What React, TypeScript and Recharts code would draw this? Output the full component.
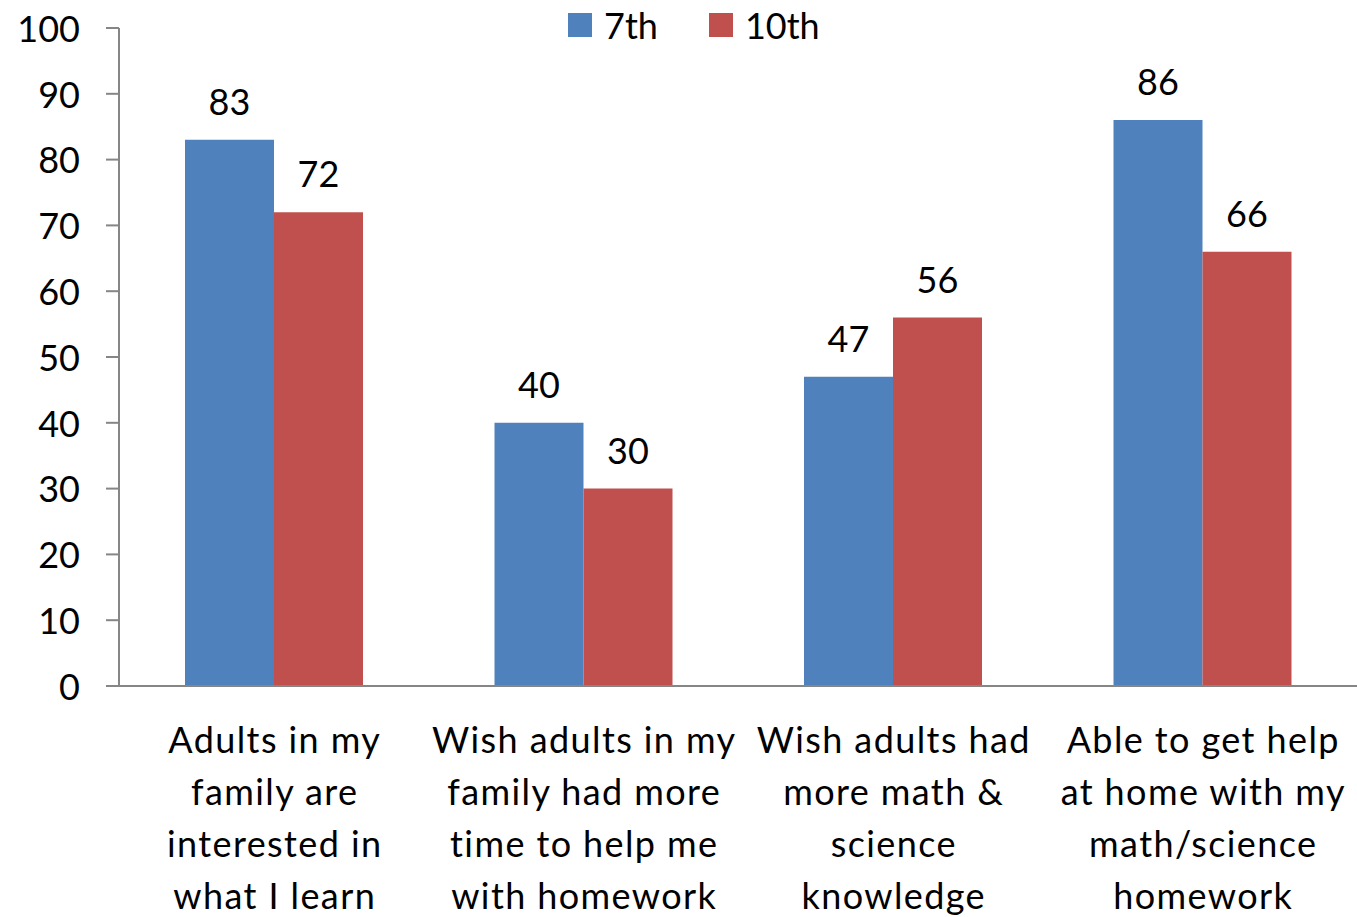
import React from "react";
import { BarChart, Bar, XAxis, YAxis, LabelList } from "recharts";

const categories = [
  ["Adults in my", "family are", "interested in", "what I learn"],
  ["Wish adults in my", "family had more", "time to help me", "with homework"],
  ["Wish adults had", "more math &", "science", "knowledge"],
  ["Able to get help", "at home with my", "math/science", "homework"],
];
const seventh = [83, 40, 47, 86];
const tenth = [72, 30, 56, 66];
const yTicks = [0, 10, 20, 30, 40, 50, 60, 70, 80, 90, 100];

const data = categories.map((lines, i) => ({
  name: lines.join("\n"),
  seventh: seventh[i],
  tenth: tenth[i],
}));

const FONT = "Lato, 'Open Sans', sans-serif";
const BLUE = "#4F81BD";
const RED = "#C0504D";
const AXIS = "#868686";

function CategoryTick(props: any) {
  const { x, y, payload } = props;
  const lines = String(payload.value).split("\n");
  return (
    <text x={x + 1} y={y} textAnchor="middle" fontFamily={FONT} fontSize={36} letterSpacing={1.4} fill="#000">
      {lines.map((l, i) => (
        <tspan key={i} x={x + 1} y={y + 59 + i * 52}>
          {l}
        </tspan>
      ))}
    </text>
  );
}

function TopLegend() {
  const items = [
    { label: "7th", color: BLUE },
    { label: "10th", color: RED },
  ];
  return (
    <div style={{ display: "flex", fontFamily: FONT, fontSize: 36, lineHeight: "50px" }}>
      {items.map((it) => (
        <div key={it.label} style={{ display: "flex", alignItems: "center", marginRight: 51 }}>
          <span style={{ width: 24, height: 24, background: it.color, display: "inline-block", marginRight: 12 }} />
          <span>{it.label}</span>
        </div>
      ))}
    </div>
  );
}

export default function App() {
  return (
    <div style={{ position: "absolute", left: 0, top: 0, width: 1357, height: 917, background: "#fff" }}>
      <div style={{ position: "absolute", left: 568, top: 0 }}>
        <TopLegend />
      </div>
      <BarChart
        width={1357}
        height={917}
        data={data}
        margin={{ top: 28, right: 0, bottom: 0, left: 1 }}
        barCategoryGap={66}
        barGap={0}
      >
        <YAxis
          domain={[0, 100]}
          ticks={yTicks}
          width={118}
          axisLine={{ stroke: AXIS, strokeWidth: 2 }}
          tickLine={{ stroke: AXIS, strokeWidth: 2 }}
          tickSize={13}
          tickMargin={26}
          tick={{ fontFamily: FONT, fontSize: 36, fill: "#000", dy: 1 }}
          interval={0}
        />
        <XAxis
          dataKey="name"
          axisLine={{ stroke: AXIS, strokeWidth: 2 }}
          tickLine={false}
          tick={<CategoryTick />}
          interval={0}
          height={231}
        />
        <Bar dataKey="seventh" fill={BLUE} isAnimationActive={false}>
          <LabelList dataKey="seventh" position="top" offset={25} fontFamily={FONT} fontSize={36} fill="#000" />
        </Bar>
        <Bar dataKey="tenth" fill={RED} isAnimationActive={false}>
          <LabelList dataKey="tenth" position="top" offset={25} fontFamily={FONT} fontSize={36} fill="#000" />
        </Bar>
      </BarChart>
    </div>
  );
}
